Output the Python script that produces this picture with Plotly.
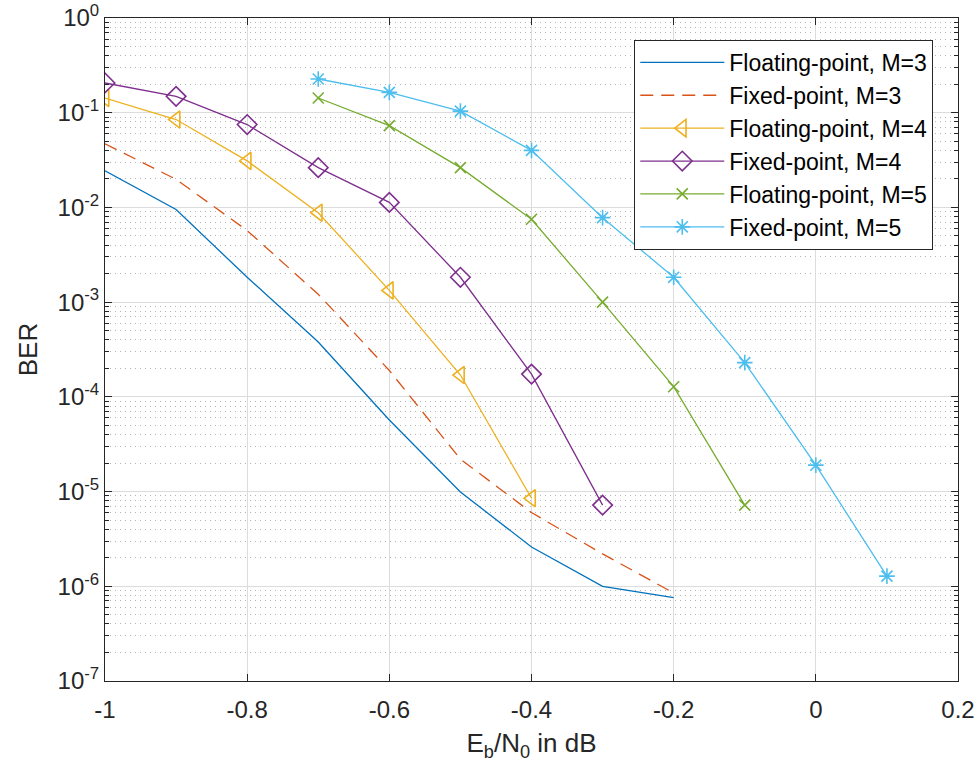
import plotly.graph_objects as go

x_m3 = [-1.0, -0.9, -0.8, -0.7, -0.6, -0.5, -0.4, -0.3, -0.2]
float_m3 = [0.0244, 0.0095, 0.00183, 3.8e-4, 5.7e-5, 9.9e-6, 2.6e-6, 1.0e-6, 7.6e-7]
fixed_m3 = [0.047, 0.0198, 0.0057, 0.00121, 1.9e-4, 2.2e-5, 6.0e-6, 2.2e-6, 8.5e-7]

x_m4_float = [-1.0, -0.9, -0.8, -0.7, -0.6, -0.5, -0.4]
float_m4 = [0.143, 0.0847, 0.031, 0.0088, 1.33e-3, 1.7e-4, 8.5e-6]
x_m4_fixed = [-1.0, -0.9, -0.8, -0.7, -0.6, -0.5, -0.4, -0.3]
fixed_m4 = [0.206, 0.149, 0.075, 0.0263, 0.0113, 1.83e-3, 1.74e-4, 7.2e-6]

x_m5_float = [-0.7, -0.6, -0.5, -0.4, -0.3, -0.2, -0.1]
float_m5 = [0.143, 0.073, 0.0263, 0.0075, 1.0e-3, 1.28e-4, 7.2e-6]
x_m5_fixed = [-0.7, -0.6, -0.5, -0.4, -0.3, -0.2, -0.1, 0.0, 0.1]
fixed_m5 = [0.227, 0.164, 0.104, 0.040, 0.0078, 1.83e-3, 2.3e-4, 1.9e-5, 1.28e-6]

x_ticks = [-1, -0.8, -0.6, -0.4, -0.2, 0, 0.2]
x_ticktext = ["-1", "-0.8", "-0.6", "-0.4", "-0.2", "0", "0.2"]
y_exps = [0, -1, -2, -3, -4, -5, -6, -7]

C = ["#0072BD", "#D95319", "#EDB120", "#7E2F8E", "#77AC30", "#4DBEEE"]
font = "Liberation Sans, Arial, sans-serif"

fig = go.Figure()
fig.add_trace(go.Scatter(x=x_m3, y=float_m3, mode="lines", name="Floating-point, M=3",
                         line=dict(color=C[0], width=1.3)))
fig.add_trace(go.Scatter(x=x_m3, y=fixed_m3, mode="lines", name="Fixed-point, M=3",
                         line=dict(color=C[1], width=1.3, dash="13px,8px")))
fig.add_trace(go.Scatter(x=x_m4_float, y=float_m4, mode="lines+markers", name="Floating-point, M=4",
                         line=dict(color=C[2], width=1.3),
                         marker=dict(symbol="triangle-left-open", size=15, color=C[2], line=dict(width=1.6, color=C[2]))))
fig.add_trace(go.Scatter(x=x_m4_fixed, y=fixed_m4, mode="lines+markers", name="Fixed-point, M=4",
                         line=dict(color=C[3], width=1.3),
                         marker=dict(symbol="diamond-open", size=15, color=C[3], line=dict(width=1.6, color=C[3]))))
fig.add_trace(go.Scatter(x=x_m5_float, y=float_m5, mode="lines+markers", name="Floating-point, M=5",
                         line=dict(color=C[4], width=1.3),
                         marker=dict(symbol="x-thin-open", size=11, color=C[4], line=dict(width=1.6, color=C[4]))))
fig.add_trace(go.Scatter(x=x_m5_fixed, y=fixed_m5, mode="lines+markers", name="Fixed-point, M=5",
                         line=dict(color=C[5], width=1.3),
                         marker=dict(symbol="asterisk-open", size=13, color=C[5], line=dict(width=1.6, color=C[5]))))

fig.update_layout(
    width=980, height=773,
    margin=dict(l=105, r=22, t=18, b=92),
    plot_bgcolor="white", paper_bgcolor="white",
    font=dict(family=font, size=24, color="#262626"),
    showlegend=True, hovermode=False,
    legend=dict(x=0.971, y=0.967, xanchor="right", yanchor="top",
                bordercolor="#262626", borderwidth=1, bgcolor="white",
                font=dict(size=23, color="#000000"), tracegroupgap=0,
                itemwidth=84),
)
fig.update_xaxes(
    range=[-1, 0.2], tickvals=x_ticks, ticktext=x_ticktext,
    showline=True, linecolor="#262626", linewidth=1, mirror="ticks",
    ticks="inside", ticklen=7, tickcolor="#262626",
    showgrid=True, gridcolor="#dcdcdc", gridwidth=1, zeroline=False,
    automargin=False, ticklabelstandoff=7, ticklabeloverflow="allow",
    title=dict(text="E<sub>b</sub>/N<sub>0</sub> in dB", font=dict(size=26), standoff=12),
    tickfont=dict(size=24),
)
fig.update_yaxes(
    type="log", range=[-7, 0],
    tickvals=[10 ** e for e in y_exps],
    ticktext=["10<sup>%d</sup>" % e for e in y_exps],
    showline=True, linecolor="#262626", linewidth=1, mirror="ticks",
    ticks="inside", ticklen=7, tickcolor="#262626",
    showgrid=True, gridcolor="#dcdcdc", gridwidth=1, zeroline=False,
    automargin=False, ticklabeloverflow="allow",
    minor=dict(dtick="D1", ticks="inside", ticklen=4, tickcolor="#262626", showgrid=True,
               gridcolor="#b4b4b4", griddash="1px,4px", gridwidth=1),
    title=dict(text="BER", font=dict(size=26), standoff=12),
    tickfont=dict(size=24),
)

fig.write_html("out.html", config={"displayModeBar": False},
               post_script="document.body.style.margin='0';")
